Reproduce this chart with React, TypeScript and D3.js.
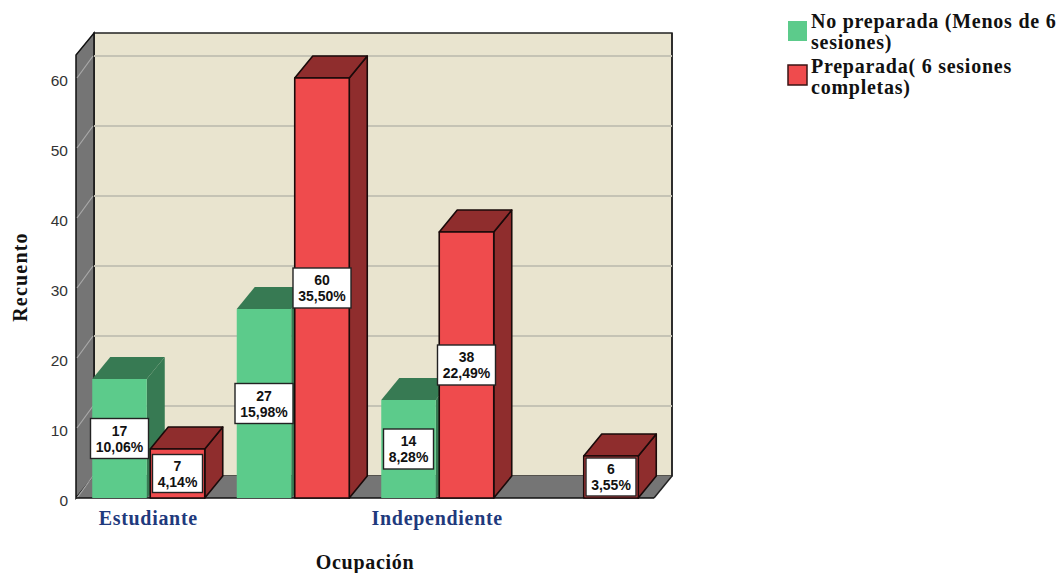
import React from "react";
import * as d3 from "d3";

// Recuento por ocupación y preparación; two of the four category labels are left blank on the axis
const categoryLabels = ["Estudiante", "", "Independiente", ""];
const seriesKeys = ["noPreparada", "preparada"];
const noPreparadaValues = [17, 27, 14, 0];
const preparadaValues = [7, 60, 38, 6];
const noPreparadaPercents = ["10,06%", "15,98%", "8,28%", ""];
const preparadaPercents = ["4,14%", "35,50%", "22,49%", "3,55%"];
const yTicks = [0, 10, 20, 30, 40, 50, 60];
const legendLines = [
  ["No preparada (Menos de 6", "sesiones)"],
  ["Preparada( 6 sesiones", "completas)"],
];

const W = 1061;
const H = 573;
const DX = 18;
const DY = -22;
const SERIF = "'Liberation Serif', serif";
const SANS = "'Liberation Sans', Arial, sans-serif";

const palette = [
  { face: "#5ccb8b", top: "#377a53", side: "#377a53", stroke: "none" },
  { face: "#ef4b4d", top: "#8f2d2d", side: "#8f2d2d", stroke: "#1a0a0a" },
];

const x = d3.scaleBand<number>().domain(categoryLabels.map((_, i) => i)).range([76, 654]);
const xInner = d3.scaleBand<string>().domain(seriesKeys).range([-56, 56.5]).paddingInner(0.06);
const y = d3.scaleLinear().domain([0, 60]).range([498, 78]);
const poly = (pts: number[][]) => pts.map((p) => p.join(",")).join(" ");

type BarDatum = { cat: number; key: string; si: number; value: number; pct: string };

const bars: BarDatum[] = categoryLabels.flatMap((_, i) => [
  { cat: i, key: seriesKeys[0], si: 0, value: noPreparadaValues[i], pct: noPreparadaPercents[i] },
  { cat: i, key: seriesKeys[1], si: 1, value: preparadaValues[i], pct: preparadaPercents[i] },
]);

function Bar({ d }: { d: BarDatum }) {
  const c = (x(d.cat) as number) + x.bandwidth() / 2;
  const x0 = c + (xInner(d.key) as number);
  const x1 = x0 + xInner.bandwidth();
  const yTop = y(d.value);
  const yBase = y(0);
  const col = palette[d.si];
  const edge = { stroke: col.stroke, strokeWidth: col.stroke === "none" ? 0 : 1.6, strokeLinejoin: "round" as const };
  return (
    <g>
      <polygon points={poly([[x1, yTop], [x1 + DX, yTop + DY], [x1 + DX, yBase + DY], [x1, yBase]])} fill={col.side} {...edge} />
      <polygon points={poly([[x0, yTop], [x0 + DX, yTop + DY], [x1 + DX, yTop + DY], [x1, yTop]])} fill={col.top} {...edge} />
      <rect x={x0} y={yTop} width={x1 - x0} height={yBase - yTop} fill={col.face} {...edge} />
    </g>
  );
}

function ValueLabel({ d }: { d: BarDatum }) {
  const c = (x(d.cat) as number) + x.bandwidth() / 2;
  const cx = c + (xInner(d.key) as number) + xInner.bandwidth() / 2;
  const cy = (y(d.value) + y(0)) / 2;
  const w = d.pct.length >= 6 ? 58 : 50;
  const h = d.value < 8 ? 38 : 40;
  return (
    <g fontFamily={SANS} fontWeight="bold" fontSize={14} textAnchor="middle" fill="#111">
      <rect x={cx - w / 2} y={cy - h / 2} width={w} height={h} fill="#fff" stroke="#222" strokeWidth={1.4} />
      <text x={cx} y={cy - 3}>{d.value}</text>
      <text x={cx} y={cy + 13}>{d.pct}</text>
    </g>
  );
}

export default function App() {
  const y0 = y(0);
  const yMax = y(60) - 23;
  const xL = 76;
  const xR = 654;
  const visible = bars.filter((b) => b.value > 0);

  return (
    <svg width={W} height={H} style={{ position: "absolute", left: 0, top: 0, display: "block" }}>
      <rect width={W} height={H} fill="#fff" />

      {/* Back wall, side wall and floor */}
      <rect x={xL + DX} y={yMax + DY} width={xR - xL} height={y0 - yMax} fill="#e9e4cf" stroke="#222" strokeWidth={1.5} />
      <polygon points={poly([[xL, y0], [xL + DX, y0 + DY], [xL + DX, yMax + DY], [xL, yMax]])} fill="#757575" stroke="#111" strokeWidth={1.5} />
      <polygon points={poly([[xL, y0], [xR, y0], [xR + DX, y0 + DY], [xL + DX, y0 + DY]])} fill="#757575" />
      <line x1={xR} y1={y0} x2={xR + DX} y2={y0 + DY} stroke="#222" strokeWidth={1.5} />
      <line x1={xR + DX} y1={y0 + DY} x2={xR + DX} y2={yMax + DY} stroke="#222" strokeWidth={1.5} />

      {/* Gridlines */}
      {yTicks.filter((t) => t > 0).map((t) => (
        <g key={t} stroke="#c5c3b5" strokeWidth={2}>
          <line x1={xL + DX} x2={xR + DX} y1={y(t) + DY} y2={y(t) + DY} />
          <line x1={xL + 1} x2={xL + DX - 1} y1={y(t)} y2={y(t) + DY} stroke="#a9a9a9" strokeWidth={1.2} />
        </g>
      ))}
      <line x1={xL + 1} x2={xL + DX - 1} y1={y(0)} y2={y(0) + DY} stroke="#a9a9a9" strokeWidth={1.2} />
      <line x1={xL} x2={xR} y1={y0} y2={y0} stroke="#111" strokeWidth={1.6} />

      {/* Green columns first, red on top, then the value boxes over everything */}
      {visible.filter((b) => b.si === 0).map((b) => <Bar key={b.cat + b.key} d={b} />)}
      {visible.filter((b) => b.si === 1).map((b) => <Bar key={b.cat + b.key} d={b} />)}
      {visible.map((b) => <ValueLabel key={b.cat + b.key} d={b} />)}

      {/* Y axis */}
      {yTicks.map((t) => (
        <text key={t} x={68} y={y(t) + 7.5} textAnchor="end" fontFamily={SANS} fontSize={15.5} fill="#333">{t}</text>
      ))}
      <text transform="translate(27,277) rotate(-90)" textAnchor="middle" fontFamily={SERIF} fontWeight="bold" fontSize={20} letterSpacing={1.2} fill="#111">Recuento</text>

      {/* X axis */}
      {categoryLabels.map((c, i) => c && (
        <text key={i} x={(x(i) as number) + x.bandwidth() / 2} y={525} textAnchor="middle" fontFamily={SERIF} fontWeight="bold" fontSize={20} letterSpacing={0.7} fill="#1f3a7d">{c}</text>
      ))}
      <text x={365} y={569} textAnchor="middle" fontFamily={SERIF} fontWeight="bold" fontSize={20} letterSpacing={0.7} fill="#111">Ocupación</text>

      {/* Legend */}
      {legendLines.map((lines, i) => {
        const top = i === 0 ? 21 : 65;
        return (
          <g key={i}>
            <rect x={788} y={top} width={19} height={20} fill={palette[i].face} stroke={i === 0 ? "none" : "#3a1515"} strokeWidth={1.5} />
            {lines.map((ln, j) => (
              <text key={j} x={811} y={(i === 0 ? 28 : 73) + j * 20.5} fontFamily={SERIF} fontWeight="bold" fontSize={20} letterSpacing={0.75} fill="#111">{ln}</text>
            ))}
          </g>
        );
      })}
    </svg>
  );
}
